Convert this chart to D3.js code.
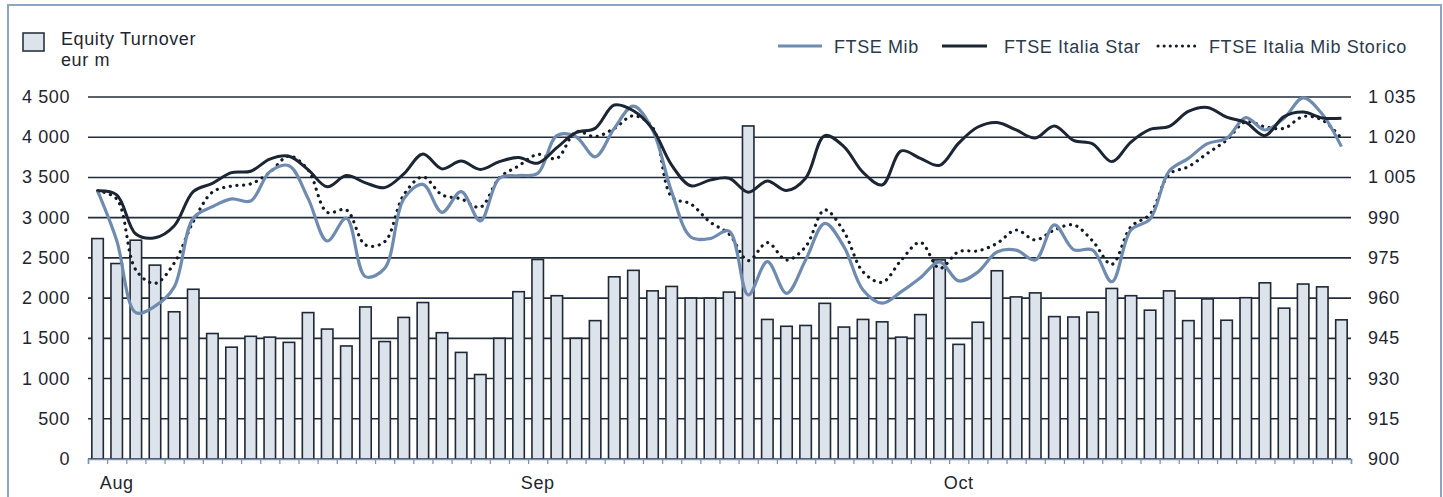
<!DOCTYPE html>
<html>
<head>
<meta charset="utf-8">
<script src="https://cdn.jsdelivr.net/npm/d3@7"></script>
<style>
  body { margin: 0; background: #fff; }
  svg text { font-family: "Liberation Sans", Arial, sans-serif; letter-spacing: 0.6px; }
</style>
</head>
<body>
<div id="chart"></div>
<script>
// equity turnover, eur m (one bar per trading day)
var turnover = [2740, 2430, 2720, 2410, 1830, 2110, 1560, 1390, 1525, 1515,
  1450, 1820, 1615, 1405, 1890, 1460, 1760, 1945, 1570, 1325,
  1050, 1500, 2080, 2480, 2030, 1500, 1720, 2265, 2345, 2090,
  2145, 2000, 2000, 2075, 4140, 1735, 1650, 1660, 1935, 1640,
  1735, 1705, 1515, 1795, 2475, 1425, 1700, 2340, 2015, 2065,
  1770, 1765, 1825, 2120, 2030, 1850, 2090, 1720, 1990, 1725,
  2005, 2190, 1875, 2175, 2140, 1730];

var ftseMib = [1000, 981.5, 954.6, 957.0, 964.1, 989.8, 994.1, 997.0, 996.2, 1007.1,
  1009.4, 997.2, 981.3, 989.8, 968.0, 971.1, 997.0, 1002.4, 992.0, 999.7,
  988.8, 1004.7, 1005.7, 1006.5, 1020.6, 1020.2, 1012.7, 1023.3, 1031.6, 1022.7,
  999.6, 982.8, 982.2, 985.0, 961.2, 973.6, 961.8, 974.2, 987.9, 979.2,
  963.0, 958.1, 962.4, 967.6, 973.5, 966.4, 969.7, 977.2, 977.9, 974.2,
  987.3, 978.1, 977.9, 966.1, 985.4, 989.5, 1007.4, 1012.1, 1017.6, 1019.6,
  1027.3, 1022.7, 1027.1, 1034.7, 1028.6, 1016.5];

var ftseStar = [1000, 998.5, 983.9, 982.5, 986.9, 999.7, 1002.8, 1006.8, 1007.3, 1011.8,
  1012.9, 1007.9, 1001.5, 1005.7, 1003.0, 1001.2, 1006.3, 1013.7, 1008.2, 1011.1,
  1008.0, 1010.9, 1012.4, 1010.3, 1016.1, 1021.7, 1023.3, 1032.0, 1029.9, 1023.1,
  1009.6, 1001.9, 1004.0, 1004.7, 999.5, 1003.7, 1000.1, 1004.7, 1020.6, 1016.5,
  1006.9, 1002.2, 1014.9, 1012.1, 1009.5, 1017.8, 1023.8, 1025.5, 1022.7, 1019.7,
  1024.2, 1018.8, 1017.5, 1010.9, 1018.2, 1022.9, 1024.0, 1029.6, 1031.1, 1027.5,
  1025.5, 1020.6, 1027.7, 1029.4, 1027.2, 1027.1];

var ftseStorico = [1000, 997.0, 970.5, 965.5, 973.0, 988.5, 999.5, 1001.8, 1002.6, 1006.9,
  1013.0, 1007.8, 992.0, 992.9, 979.8, 981.0, 998.5, 1005.2, 998.5, 997.0,
  993.9, 1004.9, 1009.3, 1013.6, 1012.1, 1022.1, 1020.2, 1023.3, 1028.0, 1023.7,
  997.8, 995.1, 988.4, 983.9, 974.0, 980.7, 974.2, 979.2, 992.9, 984.8,
  969.8, 965.9, 974.2, 980.8, 971.1, 977.3, 977.6, 980.4, 985.4, 981.7,
  985.4, 987.3, 981.3, 972.6, 986.6, 991.3, 1006.2, 1009.0, 1014.0, 1018.9,
  1025.8, 1023.9, 1023.3, 1027.7, 1026.4, 1019.6];

var monthLabels = ["Aug", "Sep", "Oct"];
var monthIndex = [1, 23, 45];
var leftTicks = [0, 500, 1000, 1500, 2000, 2500, 3000, 3500, 4000, 4500];
var rightTicks = [900, 915, 930, 945, 960, 975, 990, 1005, 1020, 1035];

function fmt(v) { return d3.format(",")(v).replace(/,/g, " "); }

var W = 1443, H = 497;
var plotLeft = 88, plotRight = 1351, plotTop = 97, plotBottom = 459;

var svg = d3.select("#chart").append("svg")
  .attr("width", W).attr("height", H);

// frame
svg.append("rect")
  .attr("x", 8).attr("y", 5).attr("width", 1433).attr("height", 520)
  .attr("fill", "none").attr("stroke", "#8fa3c3").attr("stroke-width", 2);

var n = turnover.length;
var x = d3.scaleBand().domain(d3.range(n)).range([plotLeft, plotRight])
  .paddingInner(0.4).paddingOuter(0.2);
var xl = d3.scaleLinear().domain([0, n]).range([plotLeft, plotRight]);
var y = d3.scaleLinear().domain([0, 4500]).range([plotBottom, plotTop]);
var y2 = d3.scaleLinear().domain([900, 1035]).range([plotBottom, plotTop]);

// gridlines
svg.append("g").selectAll("line").data(leftTicks).enter().append("line")
  .attr("x1", plotLeft).attr("x2", plotRight)
  .attr("y1", function(d) { return y(d); }).attr("y2", function(d) { return y(d); })
  .attr("stroke", "#232c3a").attr("stroke-width", 1.6);

// left labels
svg.append("g").selectAll("text").data(leftTicks).enter().append("text")
  .attr("x", 70).attr("y", function(d) { return y(d) + 6; })
  .attr("text-anchor", "end").attr("font-size", 18).attr("fill", "#1f2530")
  .text(fmt);

// right labels
svg.append("g").selectAll("text").data(rightTicks).enter().append("text")
  .attr("x", 1368).attr("y", function(d) { return y2(d) + 6; })
  .attr("font-size", 18).attr("fill", "#1f2530")
  .text(fmt);

// bars
svg.append("g").selectAll("rect").data(turnover).enter().append("rect")
  .attr("x", function(d, i) { return x(i); })
  .attr("y", function(d) { return y(d); })
  .attr("width", x.bandwidth())
  .attr("height", function(d) { return plotBottom - y(d); })
  .attr("fill", "#dce3ea").attr("stroke", "#1f2836").attr("stroke-width", 1.6);

// bottom axis: ticks between days
var ax = svg.append("g").attr("transform", "translate(0," + plotBottom + ")")
  .call(d3.axisBottom(xl).tickValues(d3.range(n + 1)).tickSize(5).tickFormat(""));
ax.select(".domain").attr("stroke", "#7f93b2").attr("stroke-width", 1.5);
ax.selectAll(".tick line").attr("stroke", "#7f93b2").attr("stroke-width", 1.3);

// month labels
var mx = svg.append("g").attr("transform", "translate(0," + plotBottom + ")")
  .call(d3.axisBottom(x).tickValues(monthIndex).tickSize(0)
    .tickFormat(function(d) { return monthLabels[monthIndex.indexOf(d)]; }));
mx.select(".domain").remove();
mx.selectAll("text").attr("font-size", 18).attr("fill", "#1f2530")
  .attr("font-family", "Liberation Sans, Arial, sans-serif").attr("y", 30).attr("dy", 0);

// lines
var line = d3.line()
  .x(function(d, i) { return x(i) + x.bandwidth() / 2; })
  .y(function(d) { return y2(d); })
  .curve(d3.curveCatmullRom.alpha(0.5));

svg.append("path").datum(ftseStorico).attr("d", line)
  .attr("fill", "none").attr("stroke", "#111a26").attr("stroke-width", 3.2)
  .attr("stroke-linecap", "round").attr("stroke-dasharray", "0.1,6.6");
svg.append("path").datum(ftseMib).attr("d", line)
  .attr("fill", "none").attr("stroke", "#6f8cb0").attr("stroke-width", 3.2);
svg.append("path").datum(ftseStar).attr("d", line)
  .attr("fill", "none").attr("stroke", "#1b2533").attr("stroke-width", 3);

// legend: bars
svg.append("rect").attr("x", 23).attr("y", 33).attr("width", 21).attr("height", 18)
  .attr("fill", "#dce3ea").attr("stroke", "#2a3340").attr("stroke-width", 1.6);
svg.append("text").attr("x", 61).attr("y", 45).attr("font-size", 18).attr("fill", "#1f2530")
  .text("Equity Turnover");
svg.append("text").attr("x", 61).attr("y", 66).attr("font-size", 18).attr("fill", "#1f2530")
  .text("eur m");

// legend: lines
var lg = svg.append("g");
lg.append("line").attr("x1", 778).attr("x2", 822).attr("y1", 46).attr("y2", 46)
  .attr("stroke", "#6f8cb0").attr("stroke-width", 3.2);
lg.append("text").attr("x", 834).attr("y", 53).attr("font-size", 18).attr("fill", "#2c3a4e")
  .text("FTSE Mib");
lg.append("line").attr("x1", 942).attr("x2", 987).attr("y1", 46).attr("y2", 46)
  .attr("stroke", "#1b2533").attr("stroke-width", 3.2);
lg.append("text").attr("x", 1004).attr("y", 53).attr("font-size", 18).attr("fill", "#2c3a4e")
  .text("FTSE Italia Star");
lg.append("line").attr("x1", 1158).attr("x2", 1200).attr("y1", 46).attr("y2", 46)
  .attr("stroke", "#111a26").attr("stroke-width", 3)
  .attr("stroke-linecap", "round").attr("stroke-dasharray", "0.1,6");
lg.append("text").attr("x", 1209).attr("y", 53).attr("font-size", 18).attr("fill", "#2c3a4e")
  .text("FTSE Italia Mib Storico");
</script>
</body>
</html>
